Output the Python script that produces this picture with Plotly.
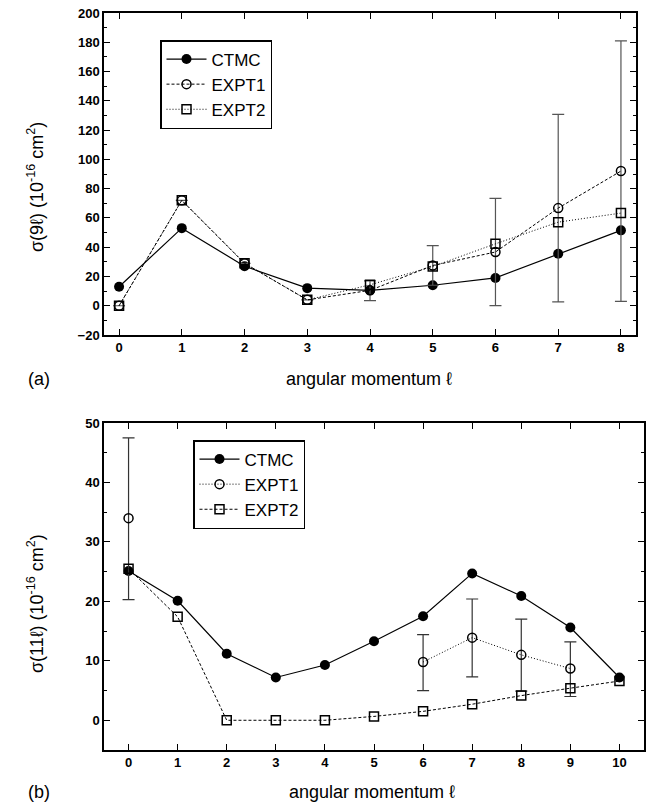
import plotly.graph_objects as go

# ---------- Panel (a) data ----------
l_a = [0, 1, 2, 3, 4, 5, 6, 7, 8]
ctmc_a = [13, 53, 27, 12, 10.5, 14, 19, 35.5, 51.5]
expt1_a = [0, 72, 29, 4, 10.5, 27.5, 36.7, 66.7, 92]
expt1_a_err_plus = [0, 0, 0, 0, 6.5, 13.5, 36.6, 64, 89]
expt1_a_err_minus = [0, 0, 0, 0, 7, 13.5, 36.6, 64, 89]
expt2_a = [0, 72, 29, 4, 14.3, 26.8, 42.3, 57.1, 63.3]

# ---------- Panel (b) data ----------
l_b = [0, 1, 2, 3, 4, 5, 6, 7, 8, 9, 10]
ctmc_b = [25.1, 20.1, 11.2, 7.2, 9.3, 13.3, 17.5, 24.7, 20.9, 15.6, 7.2]
expt1_b = [34, None, None, None, None, None, 9.8, 13.9, 11.0, 8.7, None]
expt1_b_err_plus = [13.5, 0, 0, 0, 0, 0, 4.6, 6.5, 6.0, 4.5, 0]
expt1_b_err_minus = [13.7, 0, 0, 0, 0, 0, 4.8, 6.6, 6.1, 4.7, 0]
expt2_b = [25.5, 17.4, 0, 0, 0, 0.65, 1.5, 2.7, 4.15, 5.4, 6.6]

FONT = "Liberation Sans, Arial, Helvetica, sans-serif"

fig = go.Figure()

# panel (a)
fig.add_trace(go.Scatter(x=l_a, y=ctmc_a, name="CTMC", mode="lines+markers",
                         line=dict(color="black", width=1.2, dash="solid"),
                         marker=dict(symbol="circle", size=10, color="black"),
                         xaxis="x", yaxis="y", legend="legend"))
fig.add_trace(go.Scatter(x=l_a, y=expt1_a, name="EXPT1", mode="lines+markers",
                         line=dict(color="black", width=1, dash="3px,2px"),
                         marker=dict(symbol="circle-open", size=9, color="black",
                                     line=dict(width=1.5)),
                         error_y=dict(type="data", symmetric=False, array=expt1_a_err_plus,
                                      arrayminus=expt1_a_err_minus, color="#555555",
                                      thickness=1.2, width=6),
                         xaxis="x", yaxis="y", legend="legend"))
fig.add_trace(go.Scatter(x=l_a, y=expt2_a, name="EXPT2", mode="lines+markers",
                         line=dict(color="black", width=1, dash="1px,2px"),
                         marker=dict(symbol="square-open", size=9, color="black",
                                     line=dict(width=1.5)),
                         xaxis="x", yaxis="y", legend="legend"))

# panel (b)
fig.add_trace(go.Scatter(x=l_b, y=ctmc_b, name="CTMC", mode="lines+markers",
                         line=dict(color="black", width=1.2, dash="solid"),
                         marker=dict(symbol="circle", size=10, color="black"),
                         xaxis="x2", yaxis="y2", legend="legend2"))
fig.add_trace(go.Scatter(x=l_b, y=expt1_b, name="EXPT1", mode="lines+markers",
                         connectgaps=False,
                         line=dict(color="black", width=1, dash="1px,2px"),
                         marker=dict(symbol="circle-open", size=9, color="black",
                                     line=dict(width=1.5)),
                         error_y=dict(type="data", symmetric=False, array=expt1_b_err_plus,
                                      arrayminus=expt1_b_err_minus, color="#333333",
                                      thickness=1.2, width=6),
                         xaxis="x2", yaxis="y2", legend="legend2"))
fig.add_trace(go.Scatter(x=l_b, y=expt2_b, name="EXPT2", mode="lines+markers",
                         line=dict(color="black", width=1, dash="3px,2px"),
                         marker=dict(symbol="square-open", size=9, color="black",
                                     line=dict(width=1.5)),
                         xaxis="x2", yaxis="y2", legend="legend2"))

W, H = 651, 806


def px(x):
    return x / W


def py(y):
    return 1 - y / H


axis_common = dict(showline=True, linecolor="black", linewidth=1.5, mirror="allticks",
                   ticks="inside", ticklen=6, tickwidth=1.2, tickcolor="black",
                   showgrid=False, zeroline=False, automargin=False,
                   tickfont=dict(family=FONT, size=13, color="black", weight="bold"))

fig.update_layout(
    template="none",
    width=W, height=H,
    margin=dict(l=0, r=0, t=0, b=0, pad=0),
    paper_bgcolor="white", plot_bgcolor="white",
    font=dict(family=FONT, color="black"),
    xaxis=dict(domain=[px(104), px(636)], range=[-0.24, 8.24], anchor="y",
               tickmode="linear", tick0=0, dtick=1, **axis_common),
    yaxis=dict(domain=[py(335), py(13)], range=[-20, 200], anchor="x",
               tickmode="linear", tick0=0, dtick=20,
               minor=dict(ticks="inside", dtick=10, ticklen=3, tickcolor="black"),
               **axis_common),
    xaxis2=dict(domain=[px(104), px(644)], range=[-0.5, 10.5], anchor="y2",
                tickmode="linear", tick0=0, dtick=1, **axis_common),
    yaxis2=dict(domain=[py(750), py(423)], range=[-5, 50], anchor="x2",
                tickmode="linear", tick0=0, dtick=10,
                minor=dict(ticks="inside", dtick=5, ticklen=3, tickcolor="black"),
                **axis_common),
    legend=dict(x=px(160), y=py(40), xanchor="left", yanchor="top",
                bordercolor="black", borderwidth=1.5, bgcolor="white",
                font=dict(family=FONT, size=17, color="black"),
                itemwidth=40, tracegroupgap=0),
    legend2=dict(x=px(193), y=py(440), xanchor="left", yanchor="top",
                 bordercolor="black", borderwidth=1.5, bgcolor="white",
                 font=dict(family=FONT, size=17, color="black"),
                 itemwidth=40, tracegroupgap=0),
    showlegend=True,
)

ann_font = dict(family=FONT, size=18, color="black")
ann_common = dict(xref="paper", yref="paper", showarrow=False, font=ann_font,
                  xanchor="center", yanchor="middle")
fig.add_annotation(text="σ(9ℓ) (10<sup>-16</sup> cm<sup>2</sup>)", x=px(35), y=py(187),
                   textangle=-90, **ann_common)
fig.add_annotation(text="σ(11ℓ) (10<sup>-16</sup> cm<sup>2</sup>)", x=px(35), y=py(604),
                   textangle=-90, **ann_common)
fig.add_annotation(text="angular momentum ℓ", x=px(369), y=py(379), **ann_common)
fig.add_annotation(text="angular momentum ℓ", x=px(372), y=py(792), **ann_common)
fig.add_annotation(text="(a)", x=px(39), y=py(379), **ann_common)
fig.add_annotation(text="(b)", x=px(39), y=py(792), **ann_common)

fig.write_html(
    "out.html",
    config={"displayModeBar": False},
    post_script="document.body.style.margin='0';document.body.style.overflow='hidden';",
)
